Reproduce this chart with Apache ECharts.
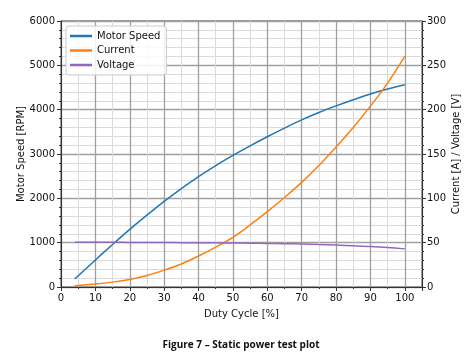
<!DOCTYPE html>
<html>
<head>
<meta charset="utf-8">
<script src="https://cdn.jsdelivr.net/npm/echarts@6/dist/echarts.min.js"></script>
<style>html,body{margin:0;padding:0;background:#fff}#c{width:474px;height:356px}</style>
</head>
<body>
<div id="c"></div>
<script>
const dutyCycle = [4, 10, 15, 20, 25, 30, 35, 40, 45, 50, 55, 60, 65, 70, 75, 80, 85, 90, 95, 100];
const motorSpeed = [180, 610, 960, 1300, 1620, 1930, 2220, 2490, 2740, 2970, 3185, 3390, 3585, 3770, 3935, 4085, 4225, 4355, 4465, 4560];
const current = [1.5, 3.5, 5.5, 8.5, 13, 19, 26, 35, 45, 56, 70, 85, 101, 118, 137, 158, 180, 204, 230, 260];
const voltage = [50.6, 50.5, 50.4, 50.3, 50.2, 50.1, 50.0, 49.9, 49.8, 49.6, 49.4, 49.2, 48.9, 48.5, 48.0, 47.3, 46.5, 45.6, 44.5, 43.0];
const seriesNames = ['Motor Speed', 'Current', 'Voltage'];
const caption = 'Figure 7 \u2013 Static power test plot';

const pairs = (ys) => dutyCycle.map((x, i) => [x, ys[i]]);
const font = 'DejaVu Sans';
const lbl = {fontFamily: font, fontSize: 10, color: '#111'};
const chart = echarts.init(document.getElementById('c'), null, {renderer: 'canvas'});
chart.setOption({
  animation: false,
  textStyle: {fontFamily: font},
  grid: {left: 61, right: 52, top: 21, bottom: 69, show: true, borderColor: '#333', borderWidth: 1, containLabel: false},
  title: {text: caption, left: 236, textAlign: 'center', top: 335,
    textStyle: {fontFamily: 'Open Sans', fontWeight: 'bold', fontSize: 10, color: '#111'}},
  legend: {
    data: seriesNames, orient: 'vertical', left: 66, top: 26,
    icon: 'rect', itemWidth: 22, itemHeight: 2.5, itemGap: 4.5,
    padding: [5, 6, 5, 4],
    borderColor: '#ccc', borderWidth: 1, borderRadius: 3, backgroundColor: 'rgba(255,255,255,0.85)',
    textStyle: lbl
  },
  xAxis: {
    type: 'value', min: 0, max: 105, interval: 10,
    name: 'Duty Cycle [%]', nameLocation: 'middle', nameGap: 22, nameMoveOverlap: false,
    nameTextStyle: lbl,
    axisLine: {show: true, onZero: false, lineStyle: {color: '#333'}},
    axisTick: {show: true, length: 4, lineStyle: {color: '#333'}},
    minorTick: {show: true, splitNumber: 2, length: 2, lineStyle: {color: '#333'}},
    axisLabel: Object.assign({margin: 6, formatter: v => (v % 10 === 0 ? String(v) : '')}, lbl),
    splitLine: {show: true, lineStyle: {color: '#a0a0a0', width: 1.3}},
    minorSplitLine: {show: true, lineStyle: {color: '#dadada', width: 1}}
  },
  yAxis: [{
    type: 'value', min: 0, max: 6000, interval: 1000,
    name: 'Motor Speed [RPM]', nameLocation: 'middle', nameGap: 35, nameRotate: 90, nameMoveOverlap: false,
    nameTextStyle: lbl,
    axisLine: {show: true, lineStyle: {color: '#333'}},
    axisTick: {show: true, length: 4, lineStyle: {color: '#333'}},
    minorTick: {show: true, splitNumber: 5, length: 2, lineStyle: {color: '#333'}},
    axisLabel: Object.assign({margin: 6, formatter: v => String(v)}, lbl),
    splitLine: {show: true, lineStyle: {color: '#a0a0a0', width: 1.3}},
    minorSplitLine: {show: true, lineStyle: {color: '#dadada', width: 1}}
  }, {
    type: 'value', min: 0, max: 300, interval: 50, position: 'right',
    name: 'Current [A] / Voltage [V]', nameLocation: 'middle', nameGap: 29, nameRotate: 90, nameMoveOverlap: false,
    nameTextStyle: lbl,
    axisLine: {show: true, lineStyle: {color: '#333'}},
    axisTick: {show: true, length: 4, lineStyle: {color: '#333'}},
    minorTick: {show: true, splitNumber: 5, length: 2, lineStyle: {color: '#333'}},
    axisLabel: Object.assign({margin: 5, formatter: v => String(v)}, lbl),
    splitLine: {show: false}
  }],
  series: [
    {name: seriesNames[0], type: 'line', yAxisIndex: 0, data: pairs(motorSpeed), smooth: 0.3, showSymbol: false,
      lineStyle: {color: '#1f77b4', width: 1.5}, itemStyle: {color: '#1f77b4'}},
    {name: seriesNames[1], type: 'line', yAxisIndex: 1, data: pairs(current), smooth: 0.3, showSymbol: false,
      lineStyle: {color: '#ff7f0e', width: 1.5}, itemStyle: {color: '#ff7f0e'}},
    {name: seriesNames[2], type: 'line', yAxisIndex: 1, data: pairs(voltage), smooth: 0.3, showSymbol: false,
      lineStyle: {color: '#9467bd', width: 1.5}, itemStyle: {color: '#9467bd'}}
  ]
});
</script>
</body>
</html>
